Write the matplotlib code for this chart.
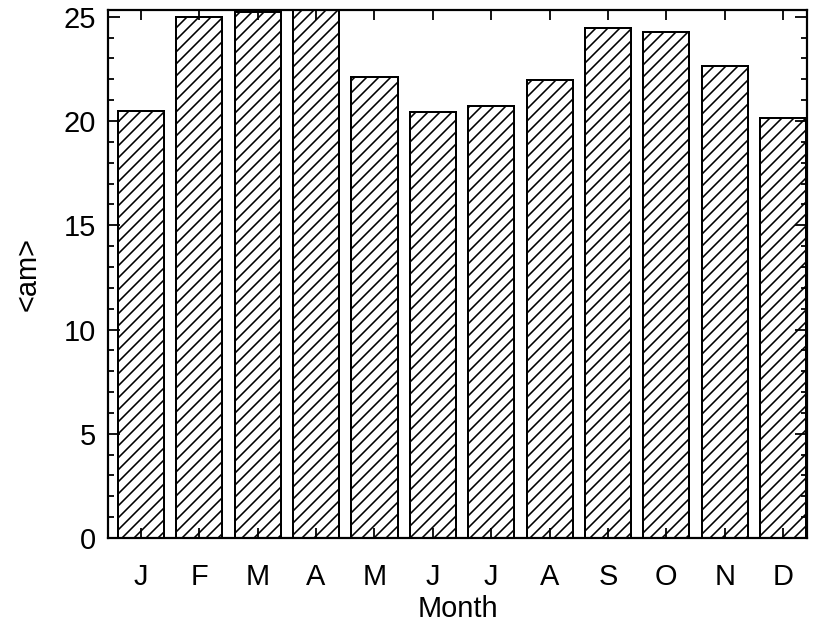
import matplotlib
matplotlib.use('Agg')
import matplotlib.pyplot as plt
import numpy as np

# monthly mean <am> values
months = ['J', 'F', 'M', 'A', 'M', 'J', 'J', 'A', 'S', 'O', 'N', 'D']
am_values = [20.5, 25.0, 25.25, 25.6, 22.1, 20.45, 20.7, 21.95, 24.45, 24.25, 22.65, 20.15]

DPI = 72
plt.rcParams['font.family'] = ['Liberation Sans', 'DejaVu Sans']
plt.rcParams['hatch.linewidth'] = 1.6

fig = plt.figure(figsize=(813 / DPI, 627 / DPI), dpi=DPI)
ax = fig.add_axes([108 / 813, 1 - 538 / 627, 699 / 813, 528.5 / 627])

x = np.arange(1, len(months) + 1)
ax.bar(x, am_values, width=0.79, facecolor='white', edgecolor='black',
       linewidth=2.0, hatch='//')

ax.set_xlim(0.435, 12.41)
ax.set_ylim(0, 25.35)

ax.set_xticks(x)
ax.set_xticklabels(months)
ax.set_yticks([0, 5, 10, 15, 20, 25])
ax.set_yticks(np.arange(0, 26, 1), minor=True)

ax.tick_params(axis='both', which='both', direction='in', top=True, right=True,
               labelsize=29, width=1.8)
ax.tick_params(axis='y', which='major', length=12, pad=12)
ax.tick_params(axis='y', which='minor', length=6)
ax.tick_params(axis='x', which='major', length=10, pad=25)
ax.tick_params(axis='x', which='minor', bottom=False, top=False)

for sp in ax.spines.values():
    sp.set_linewidth(2.2)

ax.set_xlabel('Month', fontsize=29, labelpad=4)
ax.set_ylabel('<am>', fontsize=29, labelpad=22)

fig.savefig('out.png', dpi=DPI)
